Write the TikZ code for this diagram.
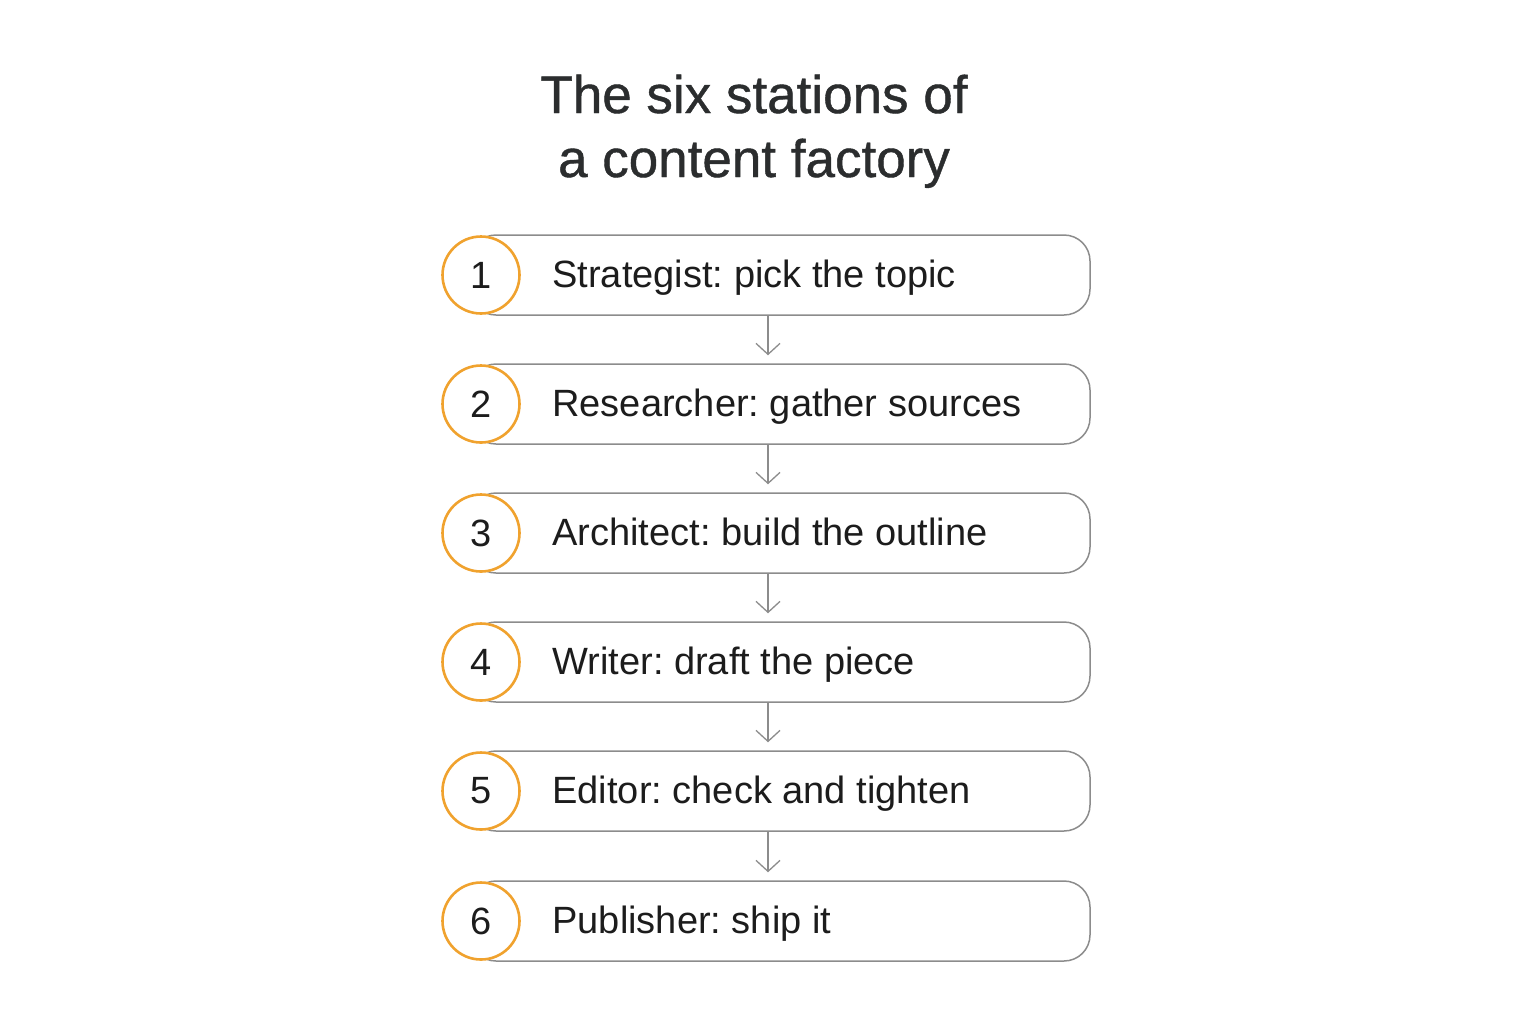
\documentclass[tikz,border=0pt]{standalone}
\usepackage{fontspec}
\setmainfont{Liberation Sans}
\newfontfamily\titlefont[FakeBold=0.8]{Liberation Sans}
\frenchspacing
\usetikzlibrary{arrows.meta}
\newlength{\du}
\setlength{\du}{0.5pt}
\definecolor{titlecolor}{HTML}{2B2D2E}
\definecolor{textcolor}{HTML}{1C1C1C}
\definecolor{framecolor}{HTML}{8C8C8C}
\definecolor{ringcolor}{HTML}{F0A22E}
\tikzset{
  stationbox/.style={draw=framecolor, line width=1.5\du, fill=white, rounded corners=26\du,
    minimum width=620\du, minimum height=80\du, inner sep=0pt},
  stationring/.style={circle, draw=ringcolor, line width=2.6\du, fill=white,
    minimum size=77\du, inner sep=0pt, text=textcolor, font=\fontsize{19}{21}\selectfont},
  stationlabel/.style={anchor=base west, inner sep=0pt, text=textcolor,
    font=\fontsize{19}{21}\selectfont},
  flowarrow/.style={draw=framecolor, line width=1.3\du,
    -{Straight Barb[length=5.5pt, width=12pt, line width=0.65pt]}, shorten >=8\du}
}

\begin{document}
\begin{tikzpicture}
\pgftransformxscale{1.000000}
\pgftransformyscale{-1.000000}
\useasboundingbox (0\du,0\du) rectangle (1536\du,1024\du);
% title
\node[anchor=base, inner sep=0pt, text=titlecolor, font=\titlefont\fontsize{26.5}{32}\selectfont] (title1) at (754\du,113\du){The six stations of};
\node[anchor=base, inner sep=0pt, text=titlecolor, font=\titlefont\fontsize{26.5}{32}\selectfont] (title2) at (754\du,177\du){a content factory};
% stations
\foreach \n/\y/\txt in {1/275/{Strategist: pick the topic},
                        2/404/{Researcher: gather sources},
                        3/533/{Architect: build the outline},
                        4/662/{Writer: draft the piece},
                        5/791/{Editor: check and tighten},
                        6/921/{Publisher: ship it}}{
  \pgfmathsetmacro{\yb}{\y+12}
  \node[stationbox] (box\n) at (780\du,\y\du){};
  \node[stationring] (ring\n) at (481\du,\y\du){\n};
  \node[stationlabel] (label\n) at (552\du,\yb\du){\txt};
}
% connectors
\foreach \a/\b in {1/2,2/3,3/4,4/5,5/6}{
  \draw[flowarrow] ([xshift=-12\du]box\a.south) -- ([xshift=-12\du]box\b.north);
}
\end{tikzpicture}
\end{document}
